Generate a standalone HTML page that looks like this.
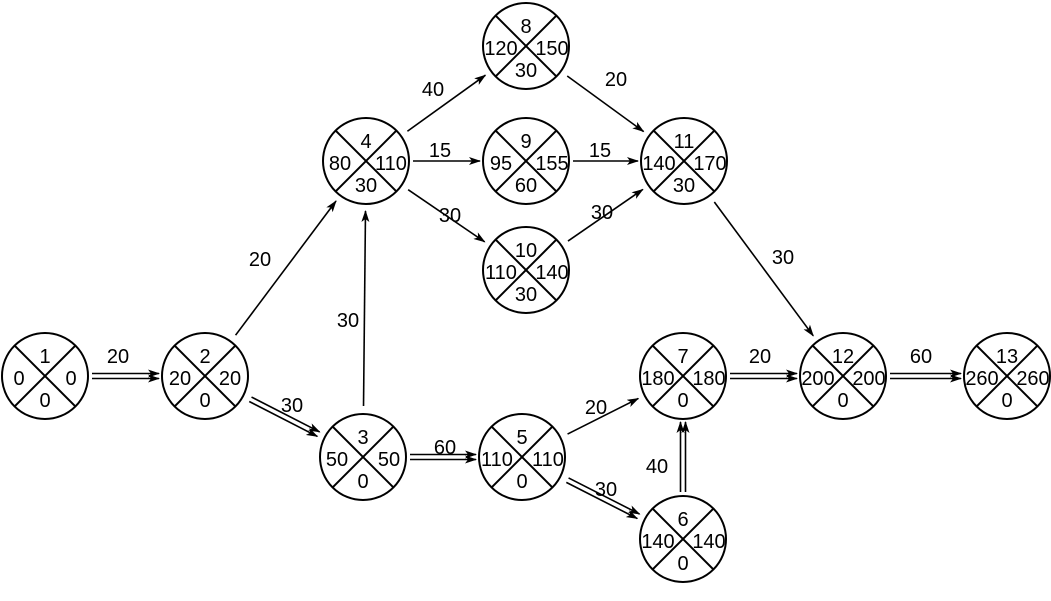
<!DOCTYPE html>
<html><head><meta charset="utf-8"><style>
body{margin:0;background:#fff}
svg{display:block}
text{font-family:"Liberation Sans",sans-serif;font-size:20px;fill:#000;text-anchor:middle}
</style></head><body>
<svg id="s" width="1051" height="601" xmlns="http://www.w3.org/2000/svg">
<defs><marker id="a" markerWidth="12" markerHeight="8" refX="11" refY="4" orient="auto" markerUnits="userSpaceOnUse"><path d="M0,0 L12,4 L0,8 L3,4 Z" fill="#000"/></marker></defs>
<g id="edges" stroke="#000" stroke-width="1.6" fill="none"></g>
<g id="nodes" stroke="#000" stroke-width="2" fill="none"></g>
<g>
<text x="45" y="363">1</text><text x="19" y="385">0</text><text x="71" y="385">0</text><text x="45" y="407">0</text>
<text x="205" y="363">2</text><text x="180" y="385">20</text><text x="230" y="385">20</text><text x="205" y="407">0</text>
<text x="363" y="444">3</text><text x="337" y="466">50</text><text x="389" y="466">50</text><text x="363" y="488">0</text>
<text x="366" y="148">4</text><text x="340" y="170">80</text><text x="391" y="170">110</text><text x="366" y="192">30</text>
<text x="522" y="444">5</text><text x="497" y="466">110</text><text x="548" y="466">110</text><text x="522" y="488">0</text>
<text x="683" y="526">6</text><text x="658" y="548">140</text><text x="709" y="548">140</text><text x="683" y="570">0</text>
<text x="683" y="363">7</text><text x="658" y="385">180</text><text x="709" y="385">180</text><text x="683" y="407">0</text>
<text x="526" y="33">8</text><text x="501" y="55">120</text><text x="552" y="55">150</text><text x="526" y="77">30</text>
<text x="526" y="148">9</text><text x="501" y="170">95</text><text x="552" y="170">155</text><text x="526" y="192">60</text>
<text x="526" y="257">10</text><text x="501" y="279">110</text><text x="552" y="279">140</text><text x="526" y="301">30</text>
<text x="684" y="148">11</text><text x="659" y="170">140</text><text x="710" y="170">170</text><text x="684" y="192">30</text>
<text x="843" y="363">12</text><text x="818" y="385">200</text><text x="869" y="385">200</text><text x="843" y="407">0</text>
<text x="1007" y="363">13</text><text x="982" y="385">260</text><text x="1033" y="385">260</text><text x="1007" y="407">0</text>
<text x="118" y="363">20</text><text x="292" y="412">30</text><text x="260" y="266">20</text><text x="348" y="327">30</text>
<text x="445" y="454">60</text><text x="433" y="96">40</text><text x="440" y="157">15</text><text x="450" y="222">30</text>
<text x="616" y="86">20</text><text x="600" y="157">15</text><text x="602" y="219">30</text><text x="783" y="264">30</text>
<text x="596" y="414">20</text><text x="606" y="496">30</text><text x="657" y="473">40</text>
<text x="760" y="363">20</text><text x="921" y="363">60</text>
</g>
<script>
var N={1:[45,376],2:[205,376],3:[363,457],4:[366,161],5:[522,457],6:[683,539],7:[683,376],8:[526,46],9:[526,161],10:[526,270],11:[684,161],12:[843,376],13:[1007,376]};
var R=43,ns="http://www.w3.org/2000/svg";
var g=document.getElementById('nodes'),e=document.getElementById('edges');
function el(p,t,a){var x=document.createElementNS(ns,t);for(var k in a)x.setAttribute(k,a[k]);p.appendChild(x);return x;}
for(var k in N){var c=N[k],d=R*0.7071;el(g,'circle',{cx:c[0],cy:c[1],r:R});
el(g,'line',{x1:c[0]-d,y1:c[1]-d,x2:c[0]+d,y2:c[1]+d});el(g,'line',{x1:c[0]-d,y1:c[1]+d,x2:c[0]+d,y2:c[1]-d});}
var E=[[1,2,2],[2,3,2],[2,4,1],[3,4,1],[3,5,2],[4,8,1],[4,9,1],[4,10,1],[8,11,1],[9,11,1],[10,11,1],[11,12,1],[5,7,1],[5,6,2],[6,7,2],[7,12,2],[12,13,2]];
E.forEach(function(q){var a=N[q[0]],b=N[q[1]],dx=b[0]-a[0],dy=b[1]-a[1],L=Math.hypot(dx,dy),ux=dx/L,uy=dy/L;
var s=(dx&&dy)?8:4;
var x1=a[0]+ux*(R+s),y1=a[1]+uy*(R+s),x2=b[0]-ux*(R+s-1),y2=b[1]-uy*(R+s-1);
if(q[2]==1)el(e,'line',{x1:x1,y1:y1,x2:x2,y2:y2,'marker-end':'url(#a)'});
else{[-2.5,2.5].forEach(function(o){var px=-uy*o,py=ux*o;el(e,'line',{x1:x1+px,y1:y1+py,x2:x2+px,y2:y2+py,'marker-end':'url(#a)'});});}
});
</script>
</svg>
</body></html>
